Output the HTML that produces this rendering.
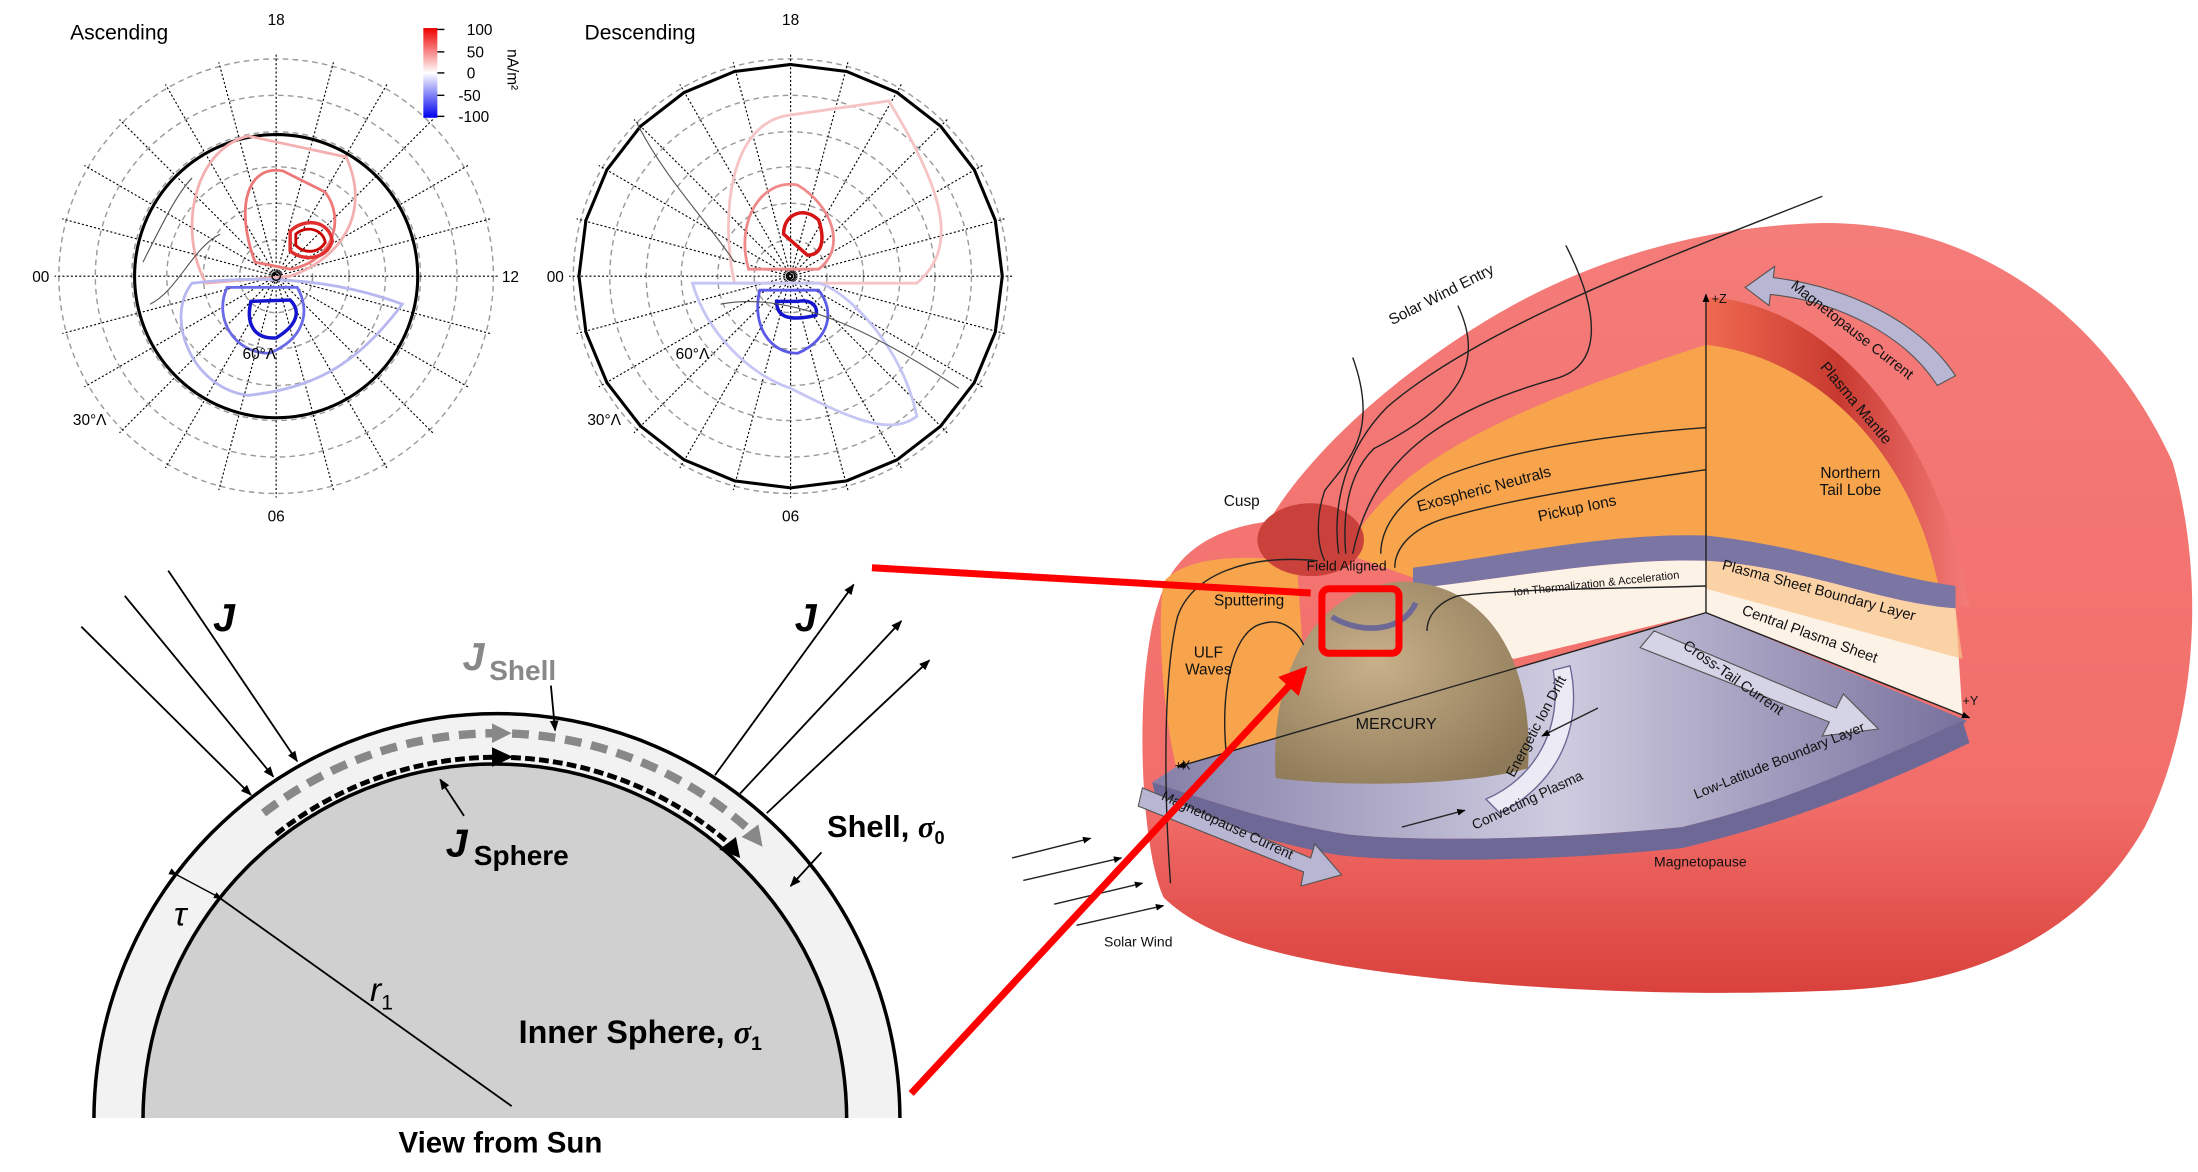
<!DOCTYPE html>
<html><head><meta charset="utf-8"><style>
html,body{margin:0;padding:0;background:#fff;}
svg{display:block;}
text{font-family:"Liberation Sans",sans-serif;}
</style></head><body>
<svg width="2198" height="1172" viewBox="0 0 1568 836" preserveAspectRatio="none" xmlns="http://www.w3.org/2000/svg">
<defs>
<line id="dl" x1="0" y1="-158" x2="0" y2="158" stroke="#000" stroke-width="0.8" stroke-dasharray="1.5,1.5"/>
<marker id="ah" viewBox="0 0 10 10" refX="9" refY="5" markerWidth="6" markerHeight="6" orient="auto"><path d="M0,1 L10,5 L0,9 z" fill="#000"/></marker>
<marker id="ahr" viewBox="0 0 10 10" refX="8" refY="5" markerWidth="4" markerHeight="4" orient="auto"><path d="M0,0 L10,5 L0,10 z" fill="#f00"/></marker>
<linearGradient id="cb" x1="0" y1="0" x2="0" y2="1"><stop offset="0" stop-color="#e00"/><stop offset="0.5" stop-color="#fff"/><stop offset="1" stop-color="#00e"/></linearGradient>
<linearGradient id="pinkg" x1="0" y1="0" x2="0" y2="1"><stop offset="0" stop-color="#f47c79"/><stop offset="0.75" stop-color="#f26e6a"/><stop offset="1" stop-color="#d9413c"/></linearGradient>
<linearGradient id="floorg" x1="0" y1="0" x2="1" y2="0"><stop offset="0" stop-color="#857fa8"/><stop offset="0.5" stop-color="#cfcce0"/><stop offset="1" stop-color="#77709d"/></linearGradient>
<radialGradient id="merc" cx="0.4" cy="0.4" r="0.7"><stop offset="0" stop-color="#c8b08a"/><stop offset="1" stop-color="#8e7a58"/></radialGradient>
<linearGradient id="mant" x1="0" y1="0" x2="1" y2="0"><stop offset="0" stop-color="#f06a50"/><stop offset="0.5" stop-color="#c83a30"/><stop offset="1" stop-color="#f47c79"/></linearGradient>
</defs>

<!-- ===== Polar plot 1 ===== -->
<text x="50" y="28" font-size="15">Ascending</text>
<text x="197" y="18" font-size="11" text-anchor="middle">18</text>
<text x="197" y="372" font-size="11" text-anchor="middle">06</text>
<text x="23" y="201" font-size="11">00</text>
<text x="358" y="201" font-size="11">12</text>
<g transform="translate(197,197)">
<g fill="none" stroke="#999" stroke-width="1" stroke-dasharray="4,3">
<circle r="155"/><circle r="129"/><circle r="103"/><circle r="78"/><circle r="52"/><circle r="26"/>
</g>
<use href="#dl"/><use href="#dl" transform="rotate(15)"/><use href="#dl" transform="rotate(30)"/><use href="#dl" transform="rotate(45)"/><use href="#dl" transform="rotate(60)"/><use href="#dl" transform="rotate(75)"/><use href="#dl" transform="rotate(90)"/><use href="#dl" transform="rotate(105)"/><use href="#dl" transform="rotate(120)"/><use href="#dl" transform="rotate(135)"/><use href="#dl" transform="rotate(150)"/><use href="#dl" transform="rotate(165)"/>
<circle r="101" fill="none" stroke="#000" stroke-width="2.2"/>
<path d="M-50,5 C-70,-30 -60,-90 -20,-100 L50,-85 C70,-40 40,-10 10,0 Z" fill="none" stroke="#f4b0b0" stroke-width="2"/>
<path d="M-15,-10 C-30,-50 -20,-80 5,-75 L35,-60 C50,-40 40,-10 10,-5 Z" fill="none" stroke="#ee7777" stroke-width="2"/>
<path d="M10,-32 C20,-42 38,-40 40,-25 C36,-12 20,-10 10,-18 Z" fill="none" stroke="#e03030" stroke-width="2.5"/>
<path d="M14,-30 C22,-37 34,-33 35,-24 C30,-16 20,-16 14,-22 Z" fill="none" stroke="#c00" stroke-width="2"/>
<path d="M-60,5 C-80,30 -60,80 -20,85 C30,80 60,60 90,20 C50,5 0,-2 -60,5 Z" fill="none" stroke="#b8b8f0" stroke-width="2"/>
<path d="M-35,8 C-45,30 -30,55 -5,55 C20,45 25,25 15,8 Z" fill="none" stroke="#6b6be8" stroke-width="2"/>
<path d="M-18,18 C-22,35 -15,45 0,44 C15,35 18,25 10,17 Z" fill="none" stroke="#1515d0" stroke-width="2.5"/>
<path d="M-95,-10 C-80,-40 -70,-60 -60,-70 M-90,20 C-70,10 -60,-20 -40,-30" fill="none" stroke="#555" stroke-width="0.8"/>
<circle r="3" fill="none" stroke="#000"/>
</g>
<text x="173" y="256" font-size="11">60°Λ</text>
<text x="52" y="303" font-size="11">30°Λ</text>
<rect x="302" y="20" width="10" height="64" fill="url(#cb)"/>
<g font-size="11"><text x="333" y="25">100</text><text x="333" y="41">50</text><text x="333" y="56">0</text><text x="327" y="72">-50</text><text x="327" y="87">-100</text></g>
<g stroke="#000" stroke-width="1"><line x1="312" y1="21" x2="317" y2="21"/><line x1="312" y1="37" x2="317" y2="37"/><line x1="312" y1="52" x2="317" y2="52"/><line x1="312" y1="68" x2="317" y2="68"/><line x1="312" y1="83" x2="317" y2="83"/></g>
<text x="0" y="0" font-size="11" transform="translate(362,35) rotate(90)">nA/m²</text>

<!-- ===== Polar plot 2 ===== -->
<text x="417" y="28" font-size="15">Descending</text>
<text x="564" y="18" font-size="11" text-anchor="middle">18</text>
<text x="564" y="372" font-size="11" text-anchor="middle">06</text>
<text x="390" y="201" font-size="11">00</text>
<g transform="translate(564,197)">
<g fill="none" stroke="#999" stroke-width="1" stroke-dasharray="4,3">
<circle r="155"/><circle r="129"/><circle r="103"/><circle r="78"/><circle r="52"/><circle r="26"/>
</g>
<use href="#dl"/><use href="#dl" transform="rotate(15)"/><use href="#dl" transform="rotate(30)"/><use href="#dl" transform="rotate(45)"/><use href="#dl" transform="rotate(60)"/><use href="#dl" transform="rotate(75)"/><use href="#dl" transform="rotate(90)"/><use href="#dl" transform="rotate(105)"/><use href="#dl" transform="rotate(120)"/><use href="#dl" transform="rotate(135)"/><use href="#dl" transform="rotate(150)"/><use href="#dl" transform="rotate(165)"/>
<polygon points="0,-151 40,-146 76,-131 107,-107 131,-76 146,-40 151,0 146,40 131,76 107,107 76,131 40,146 0,151 -40,146 -76,131 -107,107 -131,76 -146,40 -151,0 -146,-40 -131,-76 -107,-107 -76,-131 -40,-146" fill="none" stroke="#000" stroke-width="2.2"/>
<path d="M-40,5 C-50,-40 -45,-110 0,-115 L70,-125 C110,-60 120,-20 90,5 Z" fill="none" stroke="#f6c4c4" stroke-width="2"/>
<path d="M-30,-5 C-40,-40 -20,-70 5,-65 C30,-50 40,-20 20,-5 Z" fill="none" stroke="#f08a8a" stroke-width="2"/>
<path d="M-5,-30 C-5,-45 10,-50 20,-40 C25,-25 22,-15 12,-15 Z" fill="none" stroke="#d51515" stroke-width="2.5"/>
<path d="M-70,5 C-60,40 -30,70 0,80 C40,100 70,115 90,100 C80,50 40,10 20,5 Z" fill="none" stroke="#c6c6f4" stroke-width="2"/>
<path d="M-22,10 C-28,35 -15,55 5,55 C28,45 32,25 20,10 Z" fill="none" stroke="#5a5ae6" stroke-width="2"/>
<path d="M-10,18 C-10,30 0,32 18,28 C20,22 15,16 5,18 Z" fill="none" stroke="#1515d0" stroke-width="2.5"/>
<path d="M-110,-110 C-90,-70 -60,-40 -40,-10 M-50,20 C0,10 60,40 120,80" fill="none" stroke="#555" stroke-width="0.8"/>
<circle r="3" fill="none" stroke="#000"/>
</g>
<text x="482" y="256" font-size="11">60°Λ</text>
<text x="419" y="303" font-size="11">30°Λ</text>

<!-- ===== Shell diagram ===== -->
<path d="M67,799 A287.5,290 0 0 1 642,799 Z" fill="#f2f2f2" stroke="#000" stroke-width="2.5"/>
<path d="M102,799 A251,254 0 0 1 604,799 Z" fill="#d0d0d0" stroke="#000" stroke-width="2.5"/>
<line x1="60" y1="799" x2="650" y2="799" stroke="#fff" stroke-width="3"/>
<path d="M188,580 A273,276 0 0 1 538,595" fill="none" stroke="#888" stroke-width="6" stroke-dasharray="12,7"/>
<path d="M365,523 l-14,-7 l0,14 z" fill="#888"/>
<path d="M544,604 l-3,-16 l-12,9 z" fill="#888"/>
<path d="M197,595 A256,259 0 0 1 524,605" fill="none" stroke="#000" stroke-width="3.5" stroke-dasharray="7,3"/>
<path d="M366,540 l-15,-7 l0,14 z" fill="#000"/>
<path d="M528,612 l-3,-15 l-12,9 z" fill="#000"/>
<g stroke="#000" stroke-width="1.3" marker-end="url(#ah)">
<line x1="58" y1="447" x2="179" y2="567"/>
<line x1="89" y1="425" x2="195" y2="554"/>
<line x1="120" y1="407" x2="212" y2="543"/>
<line x1="510" y1="553" x2="609" y2="417"/>
<line x1="528" y1="566" x2="643" y2="443"/>
<line x1="547" y1="580" x2="663" y2="471"/>
<line x1="393" y1="489" x2="396" y2="521"/>
<line x1="331" y1="582" x2="314" y2="556"/>
<line x1="586" y1="608" x2="564" y2="632"/>
</g>
<line x1="156" y1="640" x2="365" y2="789" stroke="#000" stroke-width="1.3"/>
<line x1="126" y1="624" x2="158" y2="641" stroke="#000" stroke-width="1" marker-start="url(#ah)" marker-end="url(#ah)"/>
<text x="152" y="450" font-size="28" font-weight="bold" font-style="italic">J</text>
<text x="567" y="450" font-size="28" font-weight="bold" font-style="italic">J</text>
<text x="330" y="478" font-size="28" font-weight="bold" font-style="italic" fill="#888">J</text>
<text x="349" y="485" font-size="20" font-weight="bold" fill="#888">Shell</text>
<text x="318" y="611" font-size="28" font-weight="bold" font-style="italic">J</text>
<text x="338" y="617" font-size="20" font-weight="bold">Sphere</text>
<text x="590" y="597" font-size="22" font-weight="bold">Shell, <tspan font-family="Liberation Serif" font-style="italic">σ</tspan><tspan font-size="13" dy="5">0</tspan></text>
<text x="124" y="660" font-size="24" font-family="Liberation Serif" font-style="italic">τ</text>
<text x="264" y="714" font-size="24" font-family="Liberation Serif" font-style="italic">r<tspan font-size="15" dy="6" font-style="normal">1</tspan></text>
<text x="370" y="744" font-size="23" font-weight="bold">Inner Sphere, <tspan font-family="Liberation Serif" font-style="italic">σ</tspan><tspan font-size="14" dy="5">1</tspan></text>
<text x="357" y="822" font-size="21" font-weight="bold" text-anchor="middle">View from Sun</text>

<!-- ===== Magnetosphere ===== -->
<path d="M830,640 C812,600 808,470 830,420 C845,385 880,375 905,372 C930,330 980,280 1050,235 C1120,190 1200,165 1280,160 C1400,150 1500,220 1550,330 C1575,420 1565,520 1530,590 C1490,660 1420,700 1320,706 C1200,712 1080,705 1000,695 C920,685 860,670 830,640 Z" fill="url(#pinkg)"/>
<path d="M1217,212 C1300,215 1380,300 1405,432 L1385,432 C1370,330 1300,255 1217,246 Z" fill="url(#mant)"/>
<path d="M960,395 C990,330 1080,290 1217,246 L1217,394 C1150,400 1060,400 1008,412 Z" fill="#f7a44c"/>
<path d="M1217,246 C1300,255 1370,330 1385,430 L1217,394 Z" fill="#f7a44c"/>
<path d="M830,415 C845,398 880,395 925,400 L935,545 L839,547 C828,500 826,440 830,415 Z" fill="#f7a44c"/>
<ellipse cx="935" cy="385" rx="38" ry="26" fill="#c9413a"/>
<path d="M1008,405 C1080,395 1150,380 1217,382 C1290,390 1340,410 1395,418 L1395,434 C1340,430 1290,405 1217,400 C1150,398 1080,412 1008,420 Z" fill="#7a75a3"/>
<path d="M1008,420 C1080,412 1150,398 1217,400 C1290,405 1340,430 1395,434 L1400,510 L1217,437 L1080,470 C1050,460 1020,440 1008,420 Z" fill="#fdf2e6"/>
<path d="M1217,400 C1290,405 1340,430 1395,434 L1400,470 L1217,420 Z" fill="#f9c48a" opacity="0.7"/>
<path d="M839,547 L1217,437 L1403,514 L1380,540 C1300,560 1260,575 1200,590 C1100,600 1000,600 960,595 C900,585 860,570 822,558 Z" fill="url(#floorg)"/>
<path d="M822,558 C860,570 900,585 960,595 C1000,600 1100,600 1200,590 C1260,575 1300,560 1400,514 L1405,530 C1310,575 1260,590 1200,605 C1100,615 1000,615 955,610 C900,600 860,585 825,572 Z" fill="#6e6896"/>
<path d="M910,555 C905,470 945,418 1000,415 C1060,415 1095,470 1090,548 C1050,560 960,562 910,555 Z" fill="url(#merc)"/>
<path d="M950,440 C970,452 1000,452 1010,430" fill="none" stroke="#6e6896" stroke-width="4"/>
<path d="M1070,580 C1110,560 1130,520 1120,475 L1108,478 C1115,520 1095,555 1060,570 Z" fill="#eceaf4" stroke="#6e6896" stroke-width="1"/>
<path d="M1180,450 L1310,505 L1315,495 L1340,520 L1300,525 L1305,515 L1170,462 Z" fill="#d5d3e6" stroke="#555" stroke-width="0.8"/>
<path d="M815,562 L935,612 L938,602 L957,624 L928,632 L930,622 L812,575 Z" fill="#b9b6d4" stroke="#555" stroke-width="0.8"/>
<path d="M1395,268 C1370,230 1320,205 1265,198 L1266,190 L1245,205 L1262,218 L1263,210 C1312,215 1360,240 1382,275 Z" fill="#b9b6d4" stroke="#555" stroke-width="0.8"/>
<g fill="none" stroke="#222" stroke-width="1">
<path d="M1300,140 C1200,180 1060,230 990,290 C960,320 950,360 955,395"/>
<path d="M1117,175 C1140,220 1145,260 1110,270 C1040,290 980,320 965,395"/>
<path d="M1040,218 C1060,260 1040,290 980,320 C960,340 958,370 960,395"/>
<path d="M965,255 C985,310 960,330 945,350 C938,370 940,390 945,400"/>
<path d="M1217,305 C1150,310 1080,320 1030,340 C1000,355 985,375 985,395"/>
<path d="M1217,335 C1150,345 1080,355 1030,370 C1005,378 995,392 995,405"/>
<path d="M1217,418 C1150,420 1080,420 1040,425 C1025,430 1018,440 1018,450"/>
<path d="M835,630 C830,560 830,480 840,440 C850,410 890,395 940,400"/>
<path d="M875,540 C870,490 880,450 900,445 C915,440 925,450 930,460"/>
</g>
<g stroke="#222" stroke-width="1" marker-end="url(#ah)">
<line x1="722" y1="612" x2="778" y2="598"/>
<line x1="730" y1="628" x2="800" y2="612"/>
<line x1="752" y1="645" x2="815" y2="630"/>
<line x1="768" y1="660" x2="830" y2="646"/>
<line x1="1217" y1="437" x2="1217" y2="210"/>
<line x1="1217" y1="437" x2="1405" y2="512"/>
<line x1="1217" y1="437" x2="840" y2="547"/>
<line x1="1000" y1="590" x2="1045" y2="578"/>
<line x1="1140" y1="505" x2="1100" y2="525"/>
</g>
<g font-size="11" fill="#111">
<text transform="translate(993,232) rotate(-27)">Solar Wind Entry</text>
<text transform="translate(1277,205) rotate(38)" font-size="10.5">Magnetopause Current</text>
<text transform="translate(1298,262) rotate(50)">Plasma Mantle</text>
<text x="1320" y="341" text-anchor="middle">Northern</text>
<text x="1320" y="353" text-anchor="middle">Tail Lobe</text>
<text transform="translate(1012,365) rotate(-15)">Exospheric Neutrals</text>
<text transform="translate(1098,372) rotate(-12)">Pickup Ions</text>
<text x="873" y="361">Cusp</text>
<text x="932" y="407" font-size="10">Field Aligned</text>
<text x="866" y="432">Sputtering</text>
<text x="862" y="469" text-anchor="middle">ULF</text>
<text x="862" y="481" text-anchor="middle">Waves</text>
<text transform="translate(1080,425) rotate(-6)" font-size="8">Ion Thermalization &amp; Acceleration</text>
<text transform="translate(1228,406) rotate(15)" font-size="10.5">Plasma Sheet Boundary Layer</text>
<text transform="translate(1242,438) rotate(20)" font-size="10.5">Central Plasma Sheet</text>
<text transform="translate(1200,462) rotate(35)" font-size="10.5">Cross-Tail Current</text>
<text x="996" y="520" text-anchor="middle" font-size="11.5">MERCURY</text>
<text transform="translate(1080,555) rotate(-62)" font-size="10">Energetic Ion Drift</text>
<text transform="translate(1052,592) rotate(-25)" font-size="10">Convecting Plasma</text>
<text transform="translate(1210,570) rotate(-22)" font-size="10">Low-Latitude Boundary Layer</text>
<text transform="translate(828,570) rotate(25)" font-size="10">Magnetopause Current</text>
<text x="1213" y="618" text-anchor="middle" font-size="10">Magnetopause</text>
<text x="812" y="675" text-anchor="middle" font-size="10">Solar Wind</text>
<text x="1221" y="216" font-size="9">+Z</text>
<text x="1400" y="503" font-size="9">+Y</text>
<text x="838" y="549" font-size="9">+X</text>
</g>

<line x1="622" y1="405" x2="935" y2="423" stroke="#f00" stroke-width="5"/>
<rect x="943" y="420" width="55" height="46" rx="5" fill="none" stroke="#f00" stroke-width="5"/>
<line x1="650" y1="780" x2="930" y2="478" stroke="#f00" stroke-width="5" marker-end="url(#ahr)"/>
</svg>
</body></html>
